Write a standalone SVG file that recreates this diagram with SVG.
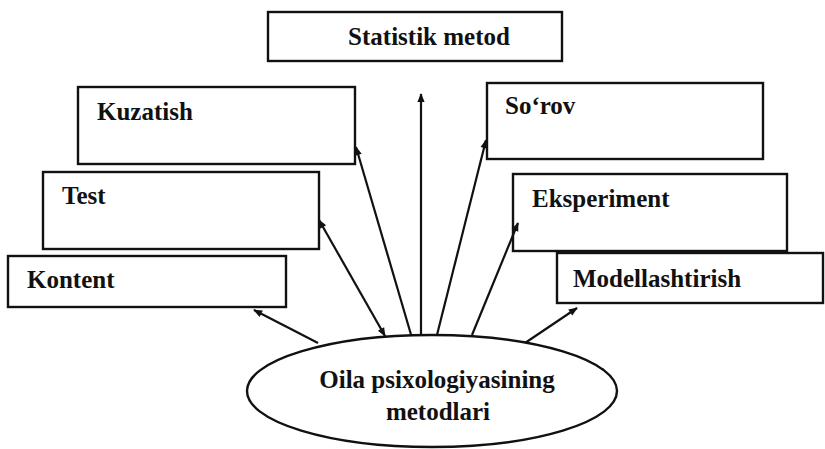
<svg xmlns="http://www.w3.org/2000/svg" width="825" height="449" viewBox="0 0 825 449">
<style>
.box{fill:#fff;stroke:#111;stroke-width:2.4}
.t{font-family:"Liberation Serif","Times New Roman",serif;font-weight:bold;font-size:25px;fill:#111}
.c{stroke:#111;stroke-width:2.2;fill:none}
</style>
<defs>
<marker id="ah" viewBox="0 0 10 10" refX="9" refY="5" markerWidth="10" markerHeight="9" orient="auto-start-reverse" markerUnits="userSpaceOnUse">
<path d="M0,1 L10,5 L0,9 z" fill="#111"/>
</marker>
</defs>
<rect width="825" height="449" fill="#fff"/>
<g id="statistik"><rect class="box" x="268" y="12" width="294" height="49"/><text class="t" x="429" y="45" text-anchor="middle">Statistik metod</text></g>
<g id="kuzatish"><rect class="box" x="78" y="87" width="277" height="77"/><text class="t" x="97" y="120">Kuzatish</text></g>
<g id="test"><rect class="box" x="43" y="172" width="276" height="77"/><text class="t" x="62" y="204">Test</text></g>
<g id="kontent"><rect class="box" x="8" y="256" width="278" height="51"/><text class="t" x="27" y="288">Kontent</text></g>
<g id="sorov"><rect class="box" x="487" y="83" width="276" height="76"/><text class="t" x="505" y="114">So‘rov</text></g>
<g id="eksperiment"><rect class="box" x="513" y="174" width="274" height="77"/><text class="t" x="532" y="207">Eksperiment</text></g>
<g id="modellashtirish"><rect class="box" x="557" y="253" width="266" height="50"/><text class="t" x="573" y="287">Modellashtirish</text></g>
<g id="connectors">
<line class="c" x1="421" y1="345" x2="421" y2="94" marker-end="url(#ah)"/>
<line class="c" x1="412" y1="338" x2="356" y2="147" marker-end="url(#ah)"/>
<line class="c" x1="385" y1="336" x2="319" y2="220" marker-start="url(#ah)" marker-end="url(#ah)"/>
<line class="c" x1="318" y1="343" x2="254" y2="310" marker-end="url(#ah)"/>
<line class="c" x1="437" y1="335" x2="486" y2="140" marker-end="url(#ah)"/>
<line class="c" x1="472" y1="335" x2="518" y2="223" marker-end="url(#ah)"/>
<line class="c" x1="525" y1="343" x2="577" y2="308" marker-end="url(#ah)"/>
<path class="c" d="M597,367 L607,376" marker-end="url(#ah)"/>
</g>
<g id="oila"><ellipse cx="432" cy="391" rx="185" ry="56" fill="#fff" stroke="#111" stroke-width="2.4"/>
<text class="t" x="437" y="388" text-anchor="middle">Oila psixologiyasining</text>
<text class="t" x="438" y="420" text-anchor="middle">metodlari</text></g>
</svg>
